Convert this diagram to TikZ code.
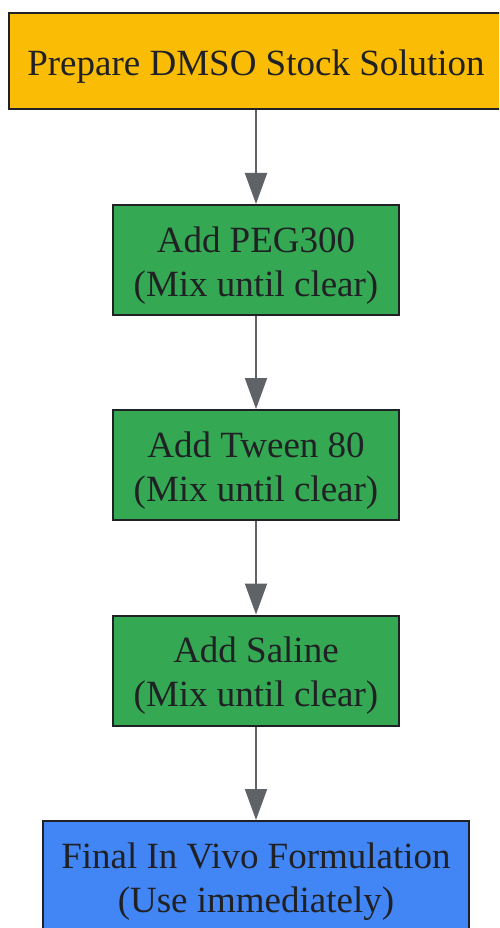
\documentclass[tikz,border=0pt]{standalone}
\usepackage{fontspec}
\setmainfont{Liberation Serif}
\usetikzlibrary{arrows.meta}
\definecolor{boxyellow}{HTML}{FBBC05}
\definecolor{boxgreen}{HTML}{34A853}
\definecolor{boxblue}{HTML}{4285F4}
\definecolor{edgegray}{HTML}{5F6368}
\definecolor{textdark}{HTML}{202124}
\begin{document}
\begin{tikzpicture}[x=1pt,y=-1pt,
  flowbox/.style={draw=textdark, line width=2pt, rectangle, inner sep=0pt},
  boxtext/.style={inner sep=0pt, align=center, text=textdark,
    font=\fontsize{37}{44}\selectfont, yshift=-5.5pt},
  conn/.style={draw=edgegray, line width=2pt, -{Triangle[length=31pt,width=22pt]}}]
\useasboundingbox (0,0) rectangle (499,928);
\clip (0,0) rectangle (499,928);
\node[flowbox, fill=boxyellow, minimum width=494pt, minimum height=96pt,
  label={[boxtext]center:Prepare DMSO Stock Solution}] (n1) at (256,61) {};
\node[flowbox, fill=boxgreen, minimum width=286pt, minimum height=110pt,
  label={[boxtext]center:Add PEG300\\(Mix until clear)}] (n2) at (256,260) {};
\node[flowbox, fill=boxgreen, minimum width=286pt, minimum height=110pt,
  label={[boxtext]center:Add Tween 80\\(Mix until clear)}] (n3) at (256,465) {};
\node[flowbox, fill=boxgreen, minimum width=286pt, minimum height=110pt,
  label={[boxtext]center:Add Saline\\(Mix until clear)}] (n4) at (256,670.5) {};
\node[flowbox, fill=boxblue, minimum width=426pt, minimum height=110pt,
  label={[boxtext]center:Final In Vivo Formulation\\(Use immediately)}] (n5) at (256,876) {};
\draw[conn] (n1) -- (n2);
\draw[conn] (n2) -- (n3);
\draw[conn] (n3) -- (n4);
\draw[conn] (n4) -- (n5);
\end{tikzpicture}
\end{document}
